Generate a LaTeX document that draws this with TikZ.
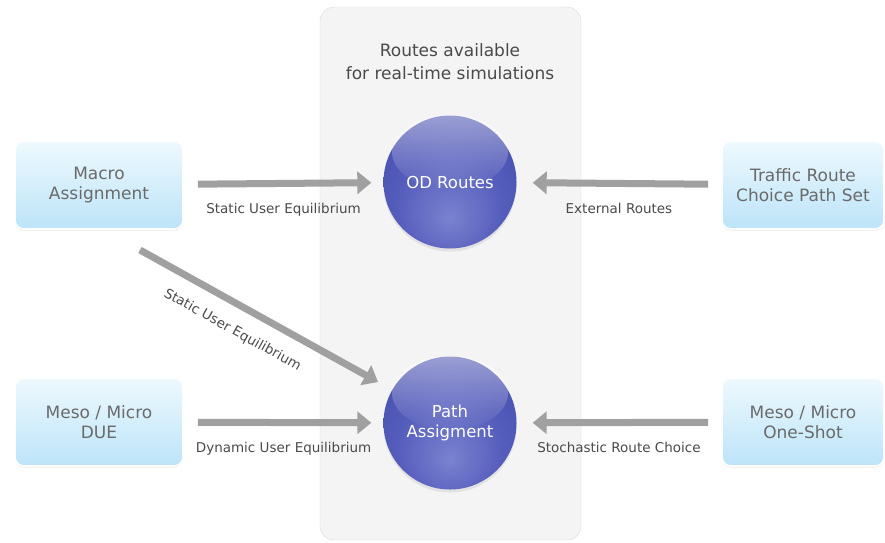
\documentclass[tikz,border=0pt]{standalone}
\usepackage{fontspec}
\setmainfont{DejaVu Sans}
\usetikzlibrary{arrows.meta,shadows,fadings}

\definecolor{panelfill}{HTML}{F4F4F4}
\definecolor{panelline}{HTML}{DADADA}
\definecolor{boxtop}{HTML}{EEF9FE}
\definecolor{boxbottom}{HTML}{BCE4F8}
\definecolor{flowgray}{HTML}{A0A0A0}
\definecolor{labelgray}{HTML}{4A4A4A}
\definecolor{boxtext}{HTML}{6A6A6A}
\definecolor{sphlight}{HTML}{7A82D0}
\definecolor{sphmid}{HTML}{555DBC}
\definecolor{sphdark}{HTML}{424AAA}
\definecolor{sphrim}{HTML}{2A318C}

\pgfdeclareradialshading{sphere}{\pgfpoint{0bp}{-14bp}}{%
  color(0bp)=(sphlight); color(20bp)=(sphmid); color(40bp)=(sphdark);
  color(56bp)=(sphrim); color(70bp)=(sphrim)}
\tikzfading[name=glossfade, top color=transparent!55, bottom color=transparent!100]

\tikzset{
  srcbox/.style={rectangle, rounded corners=9pt, draw=white, line width=1.6pt,
    top color=boxtop, bottom color=boxbottom, minimum height=88pt,
    align=center, text=boxtext, font=\fontsize{17}{20}\selectfont,
    drop shadow={opacity=0.18, shadow xshift=0pt, shadow yshift=-1.5pt}},
  routeball/.style={circle, minimum size=133pt, inner sep=0pt, shade, shading=sphere,
    drop shadow={opacity=0.15, shadow xshift=0pt, shadow yshift=-3pt}},
  balltext/.style={align=center, text=white, font=\fontsize{16.5}{20}\selectfont},
  gloss/.style={fill=white, path fading=glossfade},
  flow/.style={draw=flowgray, line width=7pt, -{Triangle[length=14pt,width=22pt]}},
  flowlabel/.style={text=labelgray, font=\fontsize{13.5}{16}\selectfont}
}

\begin{document}
\begin{tikzpicture}[x=1pt,y=-1pt]
\useasboundingbox (0,0) rectangle (885,542);
\draw[fill=panelfill, draw=panelline, rounded corners=14pt] (320,7) rectangle (581,540);
\path (450,62) node[align=center, text=labelgray, font=\fontsize{17}{23}\selectfont] (title)
        {Routes available\\for real-time simulations}
      (99,185) node[srcbox, minimum width=168pt] (macro) {Macro\\Assignment}
      (99,422) node[srcbox, minimum width=168pt] (due) {Meso / Micro\\DUE}
      (803,185) node[srcbox, minimum width=162pt] (traffic) {Traffic Route\\Choice Path Set}
      (803,422) node[srcbox, minimum width=162pt] (oneshot) {Meso / Micro\\One-Shot}
      (450,182) node[routeball] (od) {}
      (450,423) node[routeball] (path) {}
      ;
\fill[gloss] ([yshift=30pt]od.center) ellipse [x radius=58pt, y radius=37pt];
\fill[gloss] ([yshift=30pt]path.center) ellipse [x radius=58pt, y radius=37pt];
\node[balltext] (odtext) at (node cs:name=od) {OD Routes};
\node[balltext] (pathtext) at (node cs:name=path) {Path\\Assigment};
\coordinate (diagstart) at (140,250);
\coordinate (diagend) at (378,382);
\draw[flow, shorten <=14pt, shorten >=12pt] (node cs:name=macro) -- (node cs:name=od)
  node[flowlabel, midway, below=13pt] {Static User Equilibrium};
\draw[flow, shorten <=13pt, shorten >=16pt] (node cs:name=traffic) -- (node cs:name=od)
  node[flowlabel, midway, below=13pt] {External Routes};
\draw[flow, shorten <=14pt, shorten >=12pt] (node cs:name=due) -- (node cs:name=path)
  node[flowlabel, midway, below=13pt] {Dynamic User Equilibrium};
\draw[flow, shorten <=13pt, shorten >=16pt] (node cs:name=oneshot) -- (node cs:name=path)
  node[flowlabel, midway, below=13pt] {Stochastic Route Choice};
\draw[flow] (diagstart) -- (diagend)
  node[flowlabel, pos=0.44, sloped, below=12pt] {Static User Equilibrium};
\end{tikzpicture}
\end{document}
